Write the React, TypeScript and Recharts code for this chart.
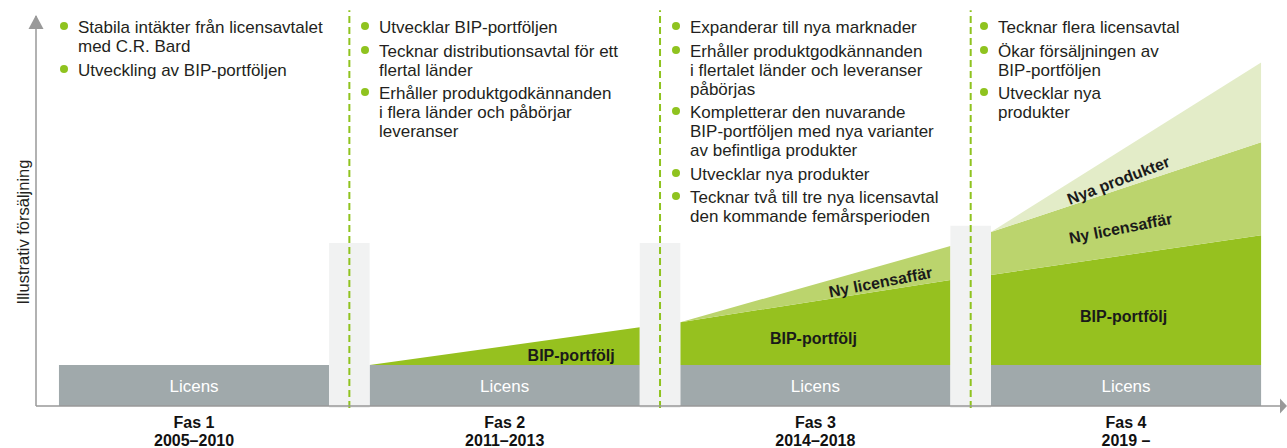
import React from 'react';
import { ComposedChart, Area, XAxis, YAxis, ReferenceArea, ReferenceLine, ReferenceDot } from 'recharts';

const FONT = '"Liberation Sans", Arial, Helvetica, sans-serif';

// phase geometry on an abstract x scale (1 unit = width of one phase)
const phaseStart = [0, 1.15, 2.3, 3.45];
const phaseEnd = [1, 2.15, 3.3, 4.45];
const phaseNames = ['Fas 1', 'Fas 2', 'Fas 3', 'Fas 4'];
const phaseYears = ['2005–2010', '2011–2013', '2014–2018', '2019 –'];

// illustrative sales, start / end value of each phase
const licensValues = [10.5, 10.5, 10.5, 10.5];
const bipStartValues = [null, 0, 11.0, 23.1];
const bipEndValues = [null, 9.7, 21.8, 33.3];
const nyLicStartValues = [null, null, 0, 11.0];
const nyLicEndValues = [null, null, 8.7, 23.8];
const nyaProdStartValues = [null, null, null, 0];
const nyaProdEndValues = [null, null, null, 20.5];

// light grey pillars between the phases
const dividerHeights = [41.8, 41.8, 46.2];

const bullets: string[][][] = [
  [['Stabila intäkter från licensavtalet', 'med C.R. Bard'], ['Utveckling av BIP-portföljen']],
  [
    ['Utvecklar BIP-portföljen'],
    ['Tecknar distributionsavtal för ett', 'flertal länder'],
    ['Erhåller produktgodkännanden', 'i flera länder och påbörjar', 'leveranser'],
  ],
  [
    ['Expanderar till nya marknader'],
    ['Erhåller produktgodkännanden', 'i flertalet länder och leveranser', 'påbörjas'],
    ['Kompletterar den nuvarande', 'BIP-portföljen med nya varianter', 'av befintliga produkter'],
    ['Utvecklar nya produkter'],
    ['Tecknar två till tre nya licensavtal', 'den kommande femårsperioden'],
  ],
  [['Tecknar flera licensavtal'], ['Ökar försäljningen av', 'BIP-portföljen'], ['Utvecklar nya', 'produkter']],
];
const bulletLeft = [78, 379, 690, 998];

const COLORS = {
  licens: '#a0a9ab',
  bip: '#96c11f',
  nyLic: '#bbd46d',
  nyaProd: '#e3ecc8',
  divider: '#f1f2f2',
  dash: '#8fc31f',
  axis: '#999999',
  text: '#231f20',
};

const rows: Record<string, number | null>[] = [];
phaseStart.forEach((s, i) => {
  rows.push({ x: s, licens: licensValues[i], bip: bipStartValues[i], nyLic: nyLicStartValues[i], nyaProd: nyaProdStartValues[i] });
  rows.push({ x: phaseEnd[i], licens: licensValues[i], bip: bipEndValues[i], nyLic: nyLicEndValues[i], nyaProd: nyaProdEndValues[i] });
  if (i < phaseStart.length - 1) {
    rows.push({ x: (phaseEnd[i] + phaseStart[i + 1]) / 2, licens: null, bip: null, nyLic: null, nyaProd: null });
  }
});

// in-chart labels (data coordinates)
const areaLabels = [
  { x: 1.896, y: 13.1, text: 'BIP-portfölj', angle: 0 },
  { x: 2.793, y: 17.4, text: 'BIP-portfölj', angle: 0 },
  { x: 3.041, y: 31.8, text: 'Ny licensaffär', angle: -11 },
  { x: 3.941, y: 23.1, text: 'BIP-portfölj', angle: 0 },
  { x: 3.93, y: 45.6, text: 'Ny licensaffär', angle: -11 },
  { x: 3.922, y: 57.9, text: 'Nya produkter', angle: -21 },
];

function PhaseTick(props: any) {
  const { x, y, index } = props;
  return (
    <g fontFamily={FONT} fontWeight="bold" fontSize={16} fill="#111" textAnchor="middle">
      <text x={x} y={y + 21.5}>{phaseNames[index]}</text>
      <text x={x} y={y + 39.5}>{phaseYears[index]}</text>
    </g>
  );
}

function YLabel(props: any) {
  const vb = props.viewBox || { x: 0, y: 16, width: 36, height: 390 };
  const cx = vb.x + 23;
  const cy = vb.y + vb.height / 2 + 21;
  return (
    <text
      x={cx}
      y={cy}
      transform={`rotate(-90, ${cx}, ${cy})`}
      textAnchor="middle"
      dominantBaseline="central"
      fontFamily={FONT}
      fontSize={16.5}
      fill={COLORS.text}
    >
      Illustrativ försäljning
    </text>
  );
}

function BulletColumn({ items, left }: { items: string[][]; left: number }) {
  return (
    <div style={{ position: 'absolute', left, top: 18, fontFamily: FONT, fontSize: 17, lineHeight: '19px', color: COLORS.text, whiteSpace: 'nowrap' }}>
      {items.map((lines, i) => (
        <div key={i} style={{ position: 'relative', marginBottom: 4.5 }}>
          <span
            style={{ position: 'absolute', left: -18, top: 4, width: 8, height: 8, borderRadius: 4, background: COLORS.dash }}
          />
          {lines.map((l, j) => (
            <div key={j}>{l}</div>
          ))}
        </div>
      ))}
    </div>
  );
}

export default function App() {
  return (
    <div style={{ position: 'absolute', left: 0, top: 0, width: 1287, height: 448, background: '#fff', overflow: 'hidden' }}>
      <ComposedChart width={1287} height={448} data={rows} margin={{ top: 16, right: 7, bottom: 0, left: 0 }}>
        <defs>
          <marker id="arrowUp" markerUnits="userSpaceOnUse" markerWidth={16} markerHeight={16} refX={7.5} refY={1} orient="0" overflow="visible">
            <path d="M0,14 L7.5,0 L15,14 Z" fill={COLORS.axis} />
          </marker>
          <marker id="arrowRight" markerUnits="userSpaceOnUse" markerWidth={16} markerHeight={16} refX={0} refY={7.5} orient="0" overflow="visible">
            <path d="M0,0 L7,7.5 L0,15 Z" fill={COLORS.axis} />
          </marker>
        </defs>
        <XAxis
          type="number"
          dataKey="x"
          domain={[-0.085, 4.52]}
          allowDataOverflow
          ticks={phaseStart.map((s, i) => (s + phaseEnd[i]) / 2)}
          tick={<PhaseTick />}
          tickLine={false}
          tickSize={0}
          tickMargin={0}
          height={42}
          axisLine={{ stroke: COLORS.axis, strokeWidth: 1.5, markerEnd: 'url(#arrowRight)' }}
        />
        <YAxis
          type="number"
          domain={[0, 100]}
          allowDataOverflow
          tick={false}
          tickLine={false}
          width={36}
          axisLine={{ stroke: COLORS.axis, strokeWidth: 1.5, markerStart: 'url(#arrowUp)' }}
          label={{ content: <YLabel /> }}
        />
        <Area type="linear" dataKey="licens" stackId="s" stroke="none" fill={COLORS.licens} fillOpacity={1} isAnimationActive={false} dot={false} activeDot={false} />
        <Area type="linear" dataKey="bip" stackId="s" stroke="none" fill={COLORS.bip} fillOpacity={1} isAnimationActive={false} dot={false} activeDot={false} />
        <Area type="linear" dataKey="nyLic" stackId="s" stroke="none" fill={COLORS.nyLic} fillOpacity={1} isAnimationActive={false} dot={false} activeDot={false} />
        <Area type="linear" dataKey="nyaProd" stackId="s" stroke="none" fill={COLORS.nyaProd} fillOpacity={1} isAnimationActive={false} dot={false} activeDot={false} />
        {dividerHeights.map((h, i) => (
          <ReferenceArea key={`div-${i}`} x1={phaseEnd[i]} x2={phaseStart[i + 1]} y1={-0.5} y2={h} fill={COLORS.divider} fillOpacity={1} stroke="none" ifOverflow="visible" />
        ))}
        {dividerHeights.map((_, i) => {
          const mx = (phaseEnd[i] + phaseStart[i + 1]) / 2;
          return (
            <ReferenceLine
              key={`dash-${i}`}
              segment={[{ x: mx, y: -0.5 }, { x: mx, y: 101.5 }]}
              stroke={COLORS.dash}
              strokeWidth={2}
              strokeDasharray="7 4"
              ifOverflow="visible"
            />
          );
        })}
        {phaseStart.map((s, i) => (
          <ReferenceDot
            key={`lic-${i}`}
            x={(s + phaseEnd[i]) / 2}
            y={licensValues[i] / 2}
            r={0}
            stroke="none"
            fill="none"
            label={{ value: 'Licens', position: 'center', fill: '#ffffff', fontSize: 17, fontFamily: FONT }}
          />
        ))}
        {areaLabels.map((l, i) => (
          <ReferenceDot
            key={`al-${i}`}
            x={l.x}
            y={l.y}
            r={0}
            stroke="none"
            fill="none"
            label={{ value: l.text, position: 'center', angle: l.angle, fill: '#1a1a1a', fontSize: 16, fontWeight: 'bold', fontFamily: FONT }}
          />
        ))}
      </ComposedChart>
      {bullets.map((items, i) => (
        <BulletColumn key={i} items={items} left={bulletLeft[i]} />
      ))}
    </div>
  );
}
